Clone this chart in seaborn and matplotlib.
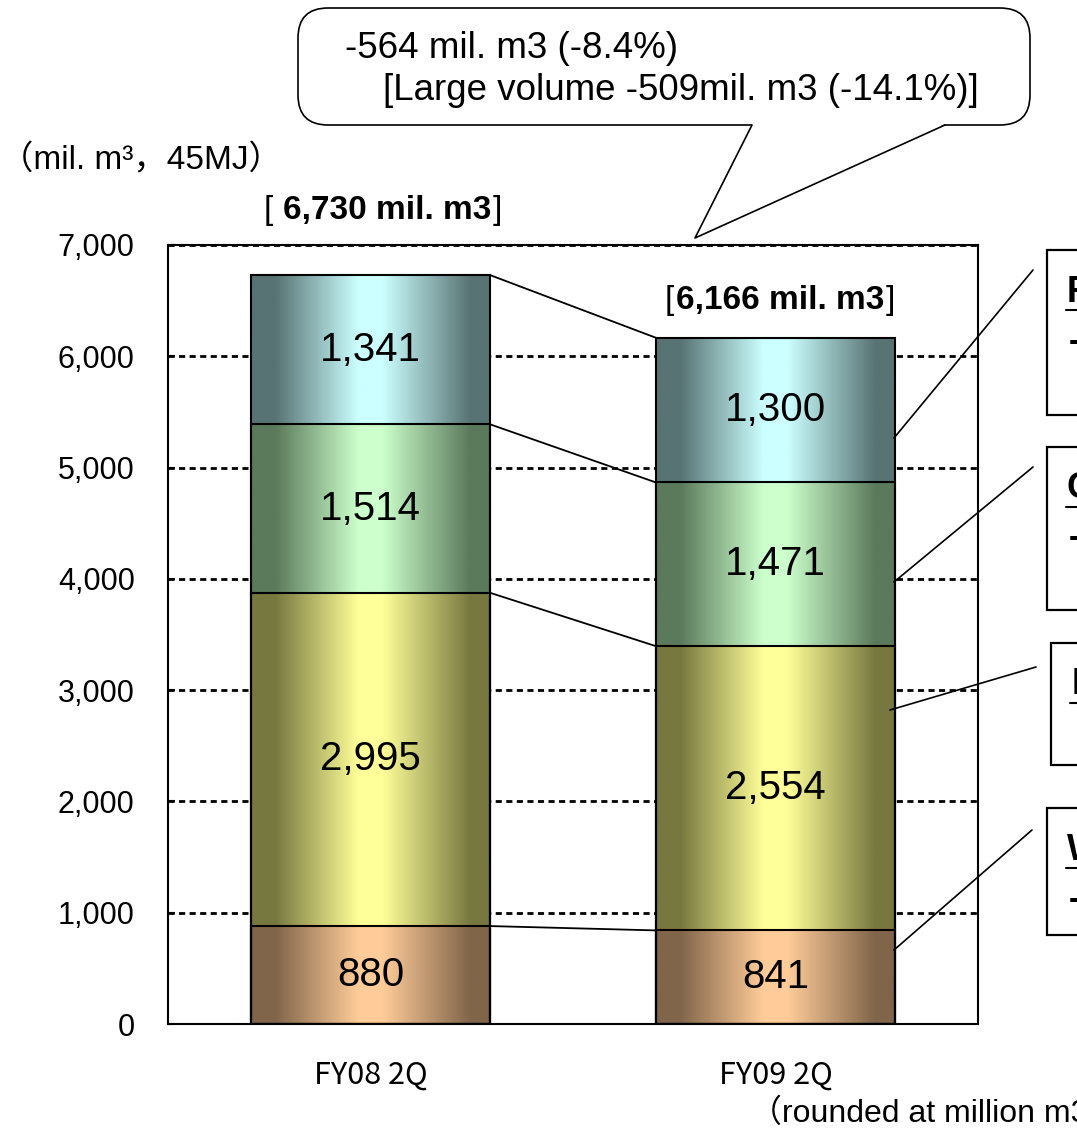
import matplotlib
matplotlib.use("Agg")
import matplotlib.pyplot as plt
import seaborn as sns
import numpy as np
from matplotlib.colors import LinearSegmentedColormap
from matplotlib.patches import FancyBboxPatch, Polygon, Rectangle
from matplotlib.lines import Line2D
from matplotlib.transforms import IdentityTransform

# data (mil. m3, 45MJ)
quarters = ["FY08 2Q", "FY09 2Q"]
wholesale = [880, 841]
industrial = [2995, 2554]
commercial = [1514, 1471]
residential = [1341, 1300]
total_labels = ["6,730 mil. m3", "6,166 mil. m3"]
yticks = [0, 1000, 2000, 3000, 4000, 5000, 6000, 7000]
callout_text = ["-564 mil. m3 (-8.4%)", "[Large volume -509mil. m3 (-14.1%)]"]
side_names = ["Residential", "Commercial", "Industrial", "Wholesale"]
side_changes = ["-41 mil. m3 (-3.1%)", "-43 mil. m3 (-2.8%)", "-441 mil. m3 (-14.7%)", "-39 mil. m3 (-4.4%)"]

layers = [wholesale, industrial, commercial, residential]
edge_cols = ["#80654a", "#77783f", "#5b795b", "#587373"]
mid_cols = ["#ffcc99", "#ffff99", "#ccffcc", "#ccffff"]

W, H = 1077, 1130
sns.set_theme(style="white")
plt.rcParams["font.family"] = ["Liberation Sans", "Noto Sans CJK JP", "DejaVu Sans"]
for key in ["text.color", "xtick.color", "ytick.color", "axes.labelcolor"]:
    plt.rcParams[key] = "black"

fig = plt.figure(figsize=(W / 100, H / 100), dpi=100)
ax = fig.add_axes([168 / W, 1 - 1024 / H, 810 / W, 779 / H])

cum = np.cumsum(np.array(layers), axis=0)
grad = np.linspace(0, 1, 256).reshape(1, -1)
bar_ext = {}

# cumulative bars, tallest first so each lower layer sits on top
for k in reversed(range(len(layers))):
    n0 = len(ax.patches)
    sns.barplot(x=quarters, y=cum[k], width=0.59, color=mid_cols[k],
                edgecolor="black", linewidth=1.5, ax=ax, zorder=3)
    cmap = LinearSegmentedColormap.from_list(
        f"g{k}", [(0, edge_cols[k]), (0.1, edge_cols[k]), (0.45, mid_cols[k]),
                  (0.55, mid_cols[k]), (0.92, edge_cols[k]), (1, edge_cols[k])])
    for j, p in enumerate(ax.patches[n0:]):
        p.set_facecolor("none")
        x0, x1 = p.get_x(), p.get_x() + p.get_width()
        bar_ext[j] = (x0, x1)
        lo = cum[k - 1][j] if k else 0
        hi = cum[k][j]
        ax.imshow(grad, cmap=cmap, extent=(x0, x1, lo, hi), aspect="auto",
                  interpolation="bilinear", zorder=2)
        ax.text((x0 + x1) / 2, (lo + hi) / 2, f"{layers[k][j]:,}",
                ha="center", va="center", fontsize=29, zorder=4)

# connector lines between the two bars
for k in range(len(layers)):
    ax.plot([bar_ext[0][1], bar_ext[1][0]], [cum[k][0], cum[k][1]],
            color="black", lw=1.3, zorder=3)

ax.set_xlim(-0.5, 1.5)
ax.set_ylim(0, 7000)
ax.set_yticks(yticks)
ax.set_yticklabels([f"{v:,}" for v in yticks], fontsize=22)
ax.set_xticks([0.5])
ax.set_xticklabels([""])
ax.set_xticks([0, 1], minor=True)
ax.set_xticklabels(quarters, minor=True, fontsize=22, family=["Noto Sans CJK JP"])
ax.tick_params(axis="x", which="major", direction="in", length=7, color="black", width=1)
ax.tick_params(axis="x", which="minor", length=0, pad=26)
ax.tick_params(axis="y", direction="in", length=5, color="black", width=1.5, pad=24, left=True)
ax.set_xlabel("")
ax.set_axisbelow(True)
ax.yaxis.grid(True, linestyle=(0, (2.2, 1.6)), color="black", linewidth=2, zorder=0)
ax.xaxis.grid(False)
for s in ax.spines.values():
    s.set_visible(True)
    s.set_color("black")
    s.set_linewidth(1.5)

# bar totals: bold figure with plain brackets
it = IdentityTransform()
total_y = [7314, 6505]
total_dx = [0.042, 0.012]
gaps = [10, 2]
renderer = fig.canvas.get_renderer()
for j, lab in enumerate(total_labels):
    cx = (bar_ext[j][0] + bar_ext[j][1]) / 2 + total_dx[j]
    t = ax.text(cx, total_y[j], lab, ha="center", va="center", fontsize=24,
                fontweight="bold", clip_on=False)
    bb = t.get_window_extent(renderer)
    ym = (bb.y0 + bb.y1) / 2
    fig.text(bb.x0 - gaps[j], ym, "[", transform=it, ha="right", va="center", fontsize=24)
    fig.text(bb.x1 + 1, ym, "]", transform=it, ha="left", va="center", fontsize=24)

# unit and footnote
fig.text(0, 1 - 160 / H, "（mil. m³，45MJ）", fontsize=24, va="center", ha="left")
fig.text(750 / W, 1 - 1114 / H, "（rounded at million m3）", fontsize=23, va="center", ha="left")

# speech callout (pixel coordinates, y from top)
def P(x, y):
    return (x, H - y)

box = FancyBboxPatch(P(298, 125), 732, 117, boxstyle="round,pad=0,rounding_size=30",
                     transform=it, facecolor="white", edgecolor="black", lw=1.2, zorder=5)
fig.patches.append(box)
tail = Polygon([P(752, 124), P(695, 238), P(945, 124)], closed=False, transform=it,
               facecolor="white", edgecolor="none", zorder=6)
fig.patches.append(tail)
fig.lines.append(Line2D([752, 695, 945], [H - 125, H - 238, H - 125], transform=it,
                        color="black", lw=1.2, zorder=7))
fig.text(345 / W, 1 - 48 / H, callout_text[0], fontsize=26.5, va="center", ha="left", zorder=8)
fig.text(383 / W, 1 - 90 / H, callout_text[1], fontsize=26.5, va="center", ha="left", zorder=8)

# side boxes (cut off at right edge)
side_boxes = [(1047, 250, 415), (1047, 447, 610), (1051, 643, 765), (1047, 808, 935)]
leaders = [((894, 438), (1033, 270)), ((894, 582), (1033, 467)),
           ((890, 710), (1036, 667)), ((894, 950), (1032, 830))]
for i, (bx, by0, by1) in enumerate(side_boxes):
    fig.patches.append(Rectangle(P(bx, by1), 200, by1 - by0, transform=it,
                                 facecolor="white", edgecolor="black", lw=1.6, zorder=5))
    (xa, ya), (xb, yb) = leaders[i]
    fig.lines.append(Line2D([xa, xb], [H - ya, H - yb], transform=it, color="black", lw=1.2, zorder=6))
    fig.text((bx + 20) / W, 1 - (by0 + 42) / H, side_names[i], fontsize=26,
             fontweight="normal" if i == 2 else "bold", va="center", ha="left", zorder=7)
    fig.lines.append(Line2D([bx + 19, bx + 60], [H - by0 - 60, H - by0 - 60], transform=it,
                            color="black", lw=1.5, zorder=7))
    if i != 2:
        fig.text((bx + 22) / W, 1 - (by0 + 92) / H, side_changes[i], fontsize=24,
                 fontweight="bold", va="center", ha="left", zorder=7)

fig.savefig("out.png", dpi=100)
